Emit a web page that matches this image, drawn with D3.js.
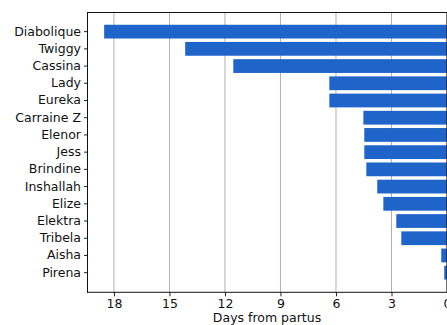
<!DOCTYPE html>
<html>
<head>
<meta charset="utf-8">
<script src="https://cdn.jsdelivr.net/npm/d3@7/dist/d3.min.js"></script>
<style>
  html, body { margin: 0; padding: 0; background: #fff; }
  svg { display: block; }
  text { font-family: "DejaVu Sans", sans-serif; fill: #111; }
</style>
</head>
<body>
<div id="chart"></div>
<script>
// Mares, ordered top to bottom
const mares = ["Diabolique", "Twiggy", "Cassina", "Lady", "Eureka", "Carraine Z",
  "Elenor", "Jess", "Brindine", "Inshallah", "Elize", "Elektra", "Tribela", "Aisha", "Pirena"];
// Days from partus for each mare
const days = [18.53, 14.15, 11.55, 6.36, 6.36, 4.52, 4.47, 4.47, 4.36, 3.77, 3.44, 2.74, 2.47, 0.31, 0.15];
// Tick values along the day axis
const dayTicks = [18, 15, 12, 9, 6, 3, 0];
const xLabel = "Days from partus";

const W = 447, H = 325;
const plotLeft = 87, plotRight = 447, plotTop = 12, plotBottom = 292.3;

const svg = d3.select("#chart").append("svg")
  .attr("width", W).attr("height", H);

// Reversed axis: 0 at the right edge, a little headroom past the longest bar
const x = d3.scaleLinear()
  .domain([d3.max(days) * 1.05, 0])
  .range([plotLeft, plotRight]);

const y = d3.scaleBand()
  .domain(mares)
  .range([plotTop, plotBottom])
  .paddingInner(0.2)
  .paddingOuter(0.74);

// Vertical grid lines behind the bars
svg.append("g")
  .selectAll("line")
  .data(dayTicks)
  .join("line")
  .attr("x1", d => x(d)).attr("x2", d => x(d))
  .attr("y1", plotTop).attr("y2", plotBottom)
  .attr("stroke", "#b0b0b0")
  .attr("stroke-width", 1);

// Bars grow leftward from zero
svg.append("g")
  .selectAll("rect")
  .data(mares)
  .join("rect")
  .attr("x", (d, i) => x(days[i]))
  .attr("width", (d, i) => x(0) - x(days[i]))
  .attr("y", d => y(d))
  .attr("height", y.bandwidth())
  .attr("fill", "#1f64c8");

// Bottom axis
const xAxis = d3.axisBottom(x)
  .tickValues(dayTicks)
  .tickFormat(d3.format("d"))
  .tickSize(4)
  .tickPadding(3);
const gx = svg.append("g")
  .attr("transform", `translate(0,${plotBottom})`)
  .call(xAxis);
gx.select(".domain").remove();
gx.selectAll(".tick line").attr("stroke", "#222");
gx.selectAll(".tick text")
  .style("font-family", "DejaVu Sans, sans-serif")
  .style("font-size", "12.5px")
  .attr("fill", "#111");

// Left axis with mare names
const yAxis = d3.axisLeft(y).tickSize(3).tickPadding(3);
const gy = svg.append("g")
  .attr("transform", `translate(${plotLeft},0)`)
  .call(yAxis);
gy.select(".domain").remove();
gy.selectAll(".tick line").attr("stroke", "#222");
gy.selectAll(".tick text")
  .style("font-family", "DejaVu Sans, sans-serif")
  .style("font-size", "12.5px")
  .attr("fill", "#111");

// Frame around the plotting area
const frame = svg.append("g").attr("fill", "none").attr("stroke", "#111").attr("stroke-width", 1);
frame.append("line").attr("x1", plotLeft + 0.5).attr("x2", plotLeft + 0.5).attr("y1", plotTop).attr("y2", plotBottom + 0.5);
frame.append("line").attr("x1", plotLeft).attr("x2", plotRight).attr("y1", plotTop + 0.5).attr("y2", plotTop + 0.5);
frame.append("line").attr("x1", plotLeft).attr("x2", plotRight).attr("y1", plotBottom).attr("y2", plotBottom);
frame.append("line").attr("x1", plotRight).attr("x2", plotRight).attr("y1", plotTop).attr("y2", plotBottom);

// Axis title
svg.append("text")
  .attr("x", (plotLeft + plotRight) / 2)
  .attr("y", 322)
  .attr("text-anchor", "middle")
  .style("font-size", "12.5px")
  .text(xLabel);
</script>
</body>
</html>
